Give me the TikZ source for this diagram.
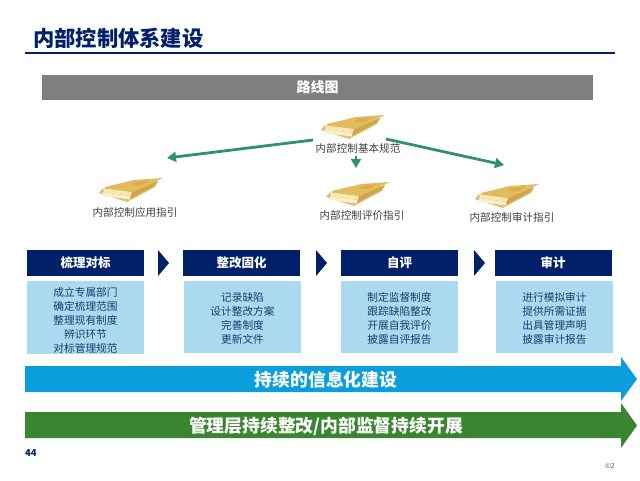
\documentclass[tikz,border=0pt]{standalone}
\usepackage{fontspec}
\setmainfont{Noto Sans CJK SC}
\usetikzlibrary{arrows.meta}
\definecolor{navy}{HTML}{00206A}
\definecolor{bodytxt}{HTML}{1F3A6E}
\definecolor{lightb}{HTML}{ABD9F0}
\definecolor{sky}{HTML}{0A9FDC}
\definecolor{grass}{HTML}{3A8530}
\definecolor{arrowg}{HTML}{2E9468}
\definecolor{barg}{HTML}{7F7F7F}
\definecolor{bookgold}{HTML}{E0BC5C}
\definecolor{bookdark}{HTML}{D0A64A}
\definecolor{bookpage}{HTML}{FAE8B4}
\definecolor{booktan}{HTML}{DCC078}
\definecolor{bookor}{HTML}{E09A48}
\tikzset{
  x=1pt,y=-1pt,
  head/.style={fill=navy,draw=none,text=white,font=\fontsize{12.5}{14}\selectfont\bfseries,minimum width=117pt,minimum height=26pt,inner sep=0pt},
  bodybox/.style={fill=lightb,draw=none,text=bodytxt,font=\fontsize{10.7}{14}\selectfont,minimum width=117pt,inner sep=0pt,align=center},
  chev/.style={fill=navy,draw=none},
  flowtxt/.style={text=white,font=\fontsize{17.8}{20}\selectfont\bfseries,inner sep=0pt},
  lbl/.style={text=black!75,font=\fontsize{10.6}{12}\selectfont,inner sep=0pt},
  link/.style={draw=arrowg,line width=2.8pt,-{Triangle[length=9pt,width=10pt]}},
  book/.pic={
    % bottom cover
    \fill[booktan] (-1,15)--(27,24)--(55,9)--(58,3)--(33,12)--(3,10)--cycle;
    % lower pages
    \fill[bookpage!70!white] (3,14)--(30,18)--(30,21.5)--(3,18)--cycle;
    % upper pages
    \fill[bookpage] (3,10)--(32,14)--(32,18)--(4,14)--cycle;
    % fore-edge side
    \fill[bookdark] (32,14)--(58,3)--(54,8)--(30,21)--cycle;
    \fill[bookor] (32,14)--(38,11)--(36,15)--(32,18)--cycle;
    % top cover
    \fill[bookgold] (5,9)--(34,2)--(63,0)--(33,14)--(5,10.5)--cycle;
    \fill[bookor!60!bookgold] (36,4)--(50,2)--(42,7)--(32,7)--cycle;
  }
}
\newcommand{\lowerA}{\rule{0pt}{14pt}}
\newcommand{\lowerB}{\rule{0pt}{12.5pt}}
\begin{document}
\begin{tikzpicture}
\useasboundingbox (0,0) rectangle (640,480);
\fill[white] (0,0) rectangle (640,480);
% title
\node[anchor=west,inner sep=0pt,text=navy,font=\fontsize{21.3}{24}\selectfont\bfseries] (title) at (33,38) {内部控制体系建设};
\coordinate (ruleL) at (25,53); \coordinate (ruleR) at (615,53);
\draw[navy,line width=2pt] (ruleL) -- (ruleR);
% road-map bar
\node[fill=barg,text=white,minimum width=551pt,minimum height=25pt,inner sep=0pt,font=\fontsize{14}{16}\selectfont\bfseries] (bar) at (317.5,87.5) {路线图};
% books
\pic at (322,115) {book};
\pic at (100,178) {book};
\pic at (327,182) {book};
\pic at (476,184) {book};
% labels
\node[lbl] (base) at (358,148) {内部控制基本规范};
\node[lbl] (app) at (135,212) {内部控制应用指引};
\node[lbl] (eval) at (362,215) {内部控制评价指引};
\node[lbl] (audit) at (512,217) {内部控制审计指引};
% arrows
\coordinate (a1s) at (313,140); \coordinate (a1e) at (167,158);
\coordinate (a2s) at (386,139); \coordinate (a2e) at (504,165);
\coordinate (a3s) at (356,156); \coordinate (a3e) at (356,168);
\draw[link] (a1s) -- (a1e);
\draw[link] (a2s) -- (a2e);
\draw[link] (a3s) -- (a3e);
% headers
\node[head] (h1) at (85.5,263) {梳理对标};
\node[head] (h2) at (241.5,263) {整改固化};
\node[head] (h3) at (399.5,263) {自评};
\node[head] (h4) at (553,263) {审计};
% chevrons
\fill[chev] (158,250)--(169,263)--(158,276)--cycle;
\fill[chev] (316,250)--(327,263)--(316,276)--cycle;
\fill[chev] (474,250)--(485,263)--(474,276)--cycle;
% bodies
\node[bodybox,minimum height=73pt] (b1) at (85.5,317.5) {\lowerA 成立专属部门\\确定梳理范围\\整理现有制度\\辨识环节\\对标管理规范};
\node[bodybox,minimum height=72pt] (b2) at (242.5,317) {\lowerB 记录缺陷\\设计整改方案\\完善制度\\更新文件};
\node[bodybox,minimum height=72pt] (b3) at (399.5,317) {\lowerB 制定监督制度\\跟踪缺陷整改\\开展自我评价\\披露自评报告};
\node[bodybox,minimum height=72pt] (b4) at (554.5,317) {\lowerB 进行模拟审计\\提供所需证据\\出具管理声明\\披露审计报告};
% long arrows
\fill[sky] (25,366)--(621,366)--(621,357)--(637,379)--(621,401)--(621,392)--(25,392)--cycle;
\fill[grass] (25,412)--(621,412)--(621,403)--(637,425.5)--(621,448)--(621,438)--(25,438)--cycle;
\node[flowtxt] (t1) at (326,380) {持续的信息化建设};
\node[flowtxt] (t2) at (326,426) {管理层持续整改/内部监督持续开展};
% footer
\node[anchor=west,inner sep=0pt,text=navy,font=\fontsize{9.5}{10}\selectfont\bfseries] (pg) at (25,453.5) {44};
\node[inner sep=0pt,text=black!65,font=\fontsize{7}{8}\selectfont] (cr) at (610,466) {©2};
\end{tikzpicture}
\end{document}
